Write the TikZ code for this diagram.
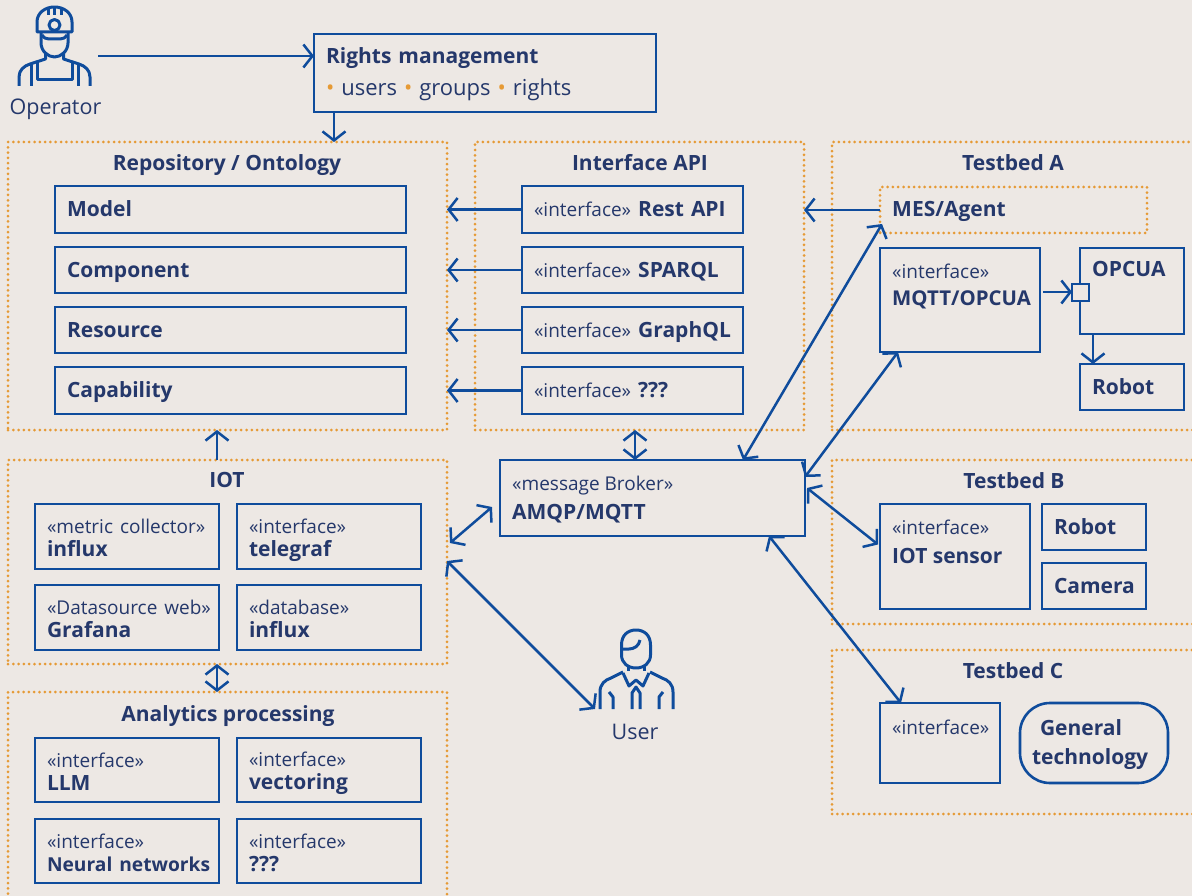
\documentclass[tikz,border=0pt]{standalone}
\usepackage{fontspec}
\setmainfont{Open Sans}
\usepackage{tikz}
\usetikzlibrary{positioning, arrows.meta}
\definecolor{pagebg}{HTML}{EDE8E4}
\definecolor{linkblue}{HTML}{0F4C9C}
\definecolor{inkblue}{HTML}{25386B}
\definecolor{dotorange}{HTML}{E69A35}
\newcommand{\stereo}[1]{{\fontsize{19}{23}\selectfont\mdseries #1}}
\newcommand{\twolines}[2]{\rule{0pt}{22pt}\mbox{\stereo{#1}}\\\mbox{#2}\rule[-5pt]{0pt}{5pt}}
\newcommand{\dotsep}{{\color{dotorange}\textbullet}}

\begin{document}
\begin{tikzpicture}[x=1pt,y=-1pt,
	box/.style={draw=linkblue, line width=2.6pt, outer sep=0pt, inner xsep=12pt, inner ysep=0pt, anchor=north west, align=left, text=inkblue, font=\fontsize{21}{23}\selectfont\bfseries},
	oneline/.style={text height=14pt, text depth=0pt},
	frame/.style={draw=dotorange, line width=3pt, line cap=round, dash pattern=on 0pt off 5.3pt, outer sep=0pt, inner sep=0pt, anchor=north west},
	title/.style={text=inkblue, inner sep=0pt, text height=14pt, text depth=0pt, font=\fontsize{21}{24}\selectfont\bfseries},
	iconlabel/.style={text=inkblue, inner sep=0pt, text height=14pt, text depth=0pt, font=\fontsize{21.5}{24}\selectfont},
	textlabel/.style={text=inkblue, inner sep=0pt, anchor=north west, align=left, font=\fontsize{21}{24}\selectfont\bfseries},
	link/.style={draw=linkblue, line width=2.5pt, -{Straight Barb[length=9pt,width=23pt]}},
	dlink/.style={draw=linkblue, line width=2.5pt, {Straight Barb[length=9pt,width=23pt]}-{Straight Barb[length=9pt,width=23pt]}},
	icon/.style={draw=linkblue, line width=3pt, line join=round}]
\useasboundingbox[fill=pagebg] (0,0) rectangle (1192,896);
% dotted frames, the open ones run off the page
\node[frame, minimum width=439pt, minimum height=288pt] (repo) at (8,142) {};
\node[frame, minimum width=329pt, minimum height=288pt] (api) at (475,142) {};
\node[frame, minimum width=400pt, minimum height=288pt] (bedA) at (832,142) {};
\node[frame, minimum width=400pt, minimum height=164pt] (bedB) at (832,460) {};
\node[frame, minimum width=400pt, minimum height=164pt] (bedC) at (832,650) {};
\node[frame, minimum width=439pt, minimum height=204pt] (iot) at (8,460) {};
\node[frame, minimum width=439pt, minimum height=240pt] (ana) at (8,692) {};
\node[title] (repotitle) at (227,164) {Repository / Ontology};
\node[title] (apititle) at (640,164) {Interface API};
\node[title] (bedAtitle) at (1013,164) {Testbed A};
\node[title] (bedBtitle) at (1014,481) {Testbed B};
\node[title] (bedCtitle) at (1013,671) {Testbed C};
\node[title] (iottitle) at (227,480) {IOT};
\node[title] (anatitle) at (228,714) {Analytics processing};
% rights
\node[box, minimum height=78pt, text width=318pt] (rights) at (314,34) {\rule{0pt}{18pt}Rights management\\[9pt]{\fontsize{22}{23}\selectfont\mdseries\dotsep\ users \dotsep\ groups \dotsep\ rights}\rule[-5pt]{0pt}{5pt}};
% repository and interface rows
\foreach \n/\y/\h/\a/\b in {0/186/47/Model/Rest API, 1/247/46/Component/SPARQL, 2/307/46/Resource/GraphQL, 3/367/47/Capability/???} {
	\node[box, oneline, minimum height=\h pt, text width=327pt] (m\n) at (55,\y) {\a};
	\node[box, oneline, minimum height=\h pt, text width=197pt] (i\n) at (522,\y) {\stereo{«interface»} \b};
	\draw[link] (i\n.west) -- (i\n.west -| repo.east);
}
% IOT and analytics boxes
\foreach \n/\x/\y/\a/\b in {a/35/504/«metric collector»/influx, b/237/504/«interface»/telegraf, c/35/585/«Datasource web»/Grafana, d/237/585/«database»/influx}
	\node[box, minimum height=65pt, text width=160pt] (iot\n) at (\x,\y) {\twolines{\a}{\b}};
\foreach \n/\x/\y/\b in {a/35/738/LLM, b/237/738/vectoring, c/35/819/{\fontsize{19.2}{23}\selectfont Neural networks}, d/237/819/???}
	\node[box, minimum height=64pt, text width=160pt] (ana\n) at (\x,\y) {\twolines{«interface»}{\b}};
% broker
\node[box, minimum width=305pt, minimum height=76pt] (broker) at (500,460) {};
\node[textlabel, below right=16pt and 12pt of broker.north west] (brokerlabel) {\stereo{«message Broker»}\\[5pt]AMQP/MQTT};
% testbed A
\node[frame, minimum width=267pt, minimum height=46pt] (mes) at (880,187) {};
\node[textlabel, anchor=west, oneline, right=12pt of mes.west] (meslabel) {MES/Agent};
\node[box, minimum width=160pt, minimum height=104pt] (mqtt) at (880,248) {};
\node[textlabel, below right=16pt and 12pt of mqtt.north west] (mqttlabel) {\stereo{«interface»}\\[3pt]{\fontsize{20.4}{24}\selectfont MQTT/OPCUA}};
\node[box, minimum width=104pt, minimum height=86pt] (opcua) at (1080,248) {};
\node[textlabel, below right=13pt and 12pt of opcua.north west] (opcualabel) {OPCUA};
\node[box, oneline, minimum width=104pt, minimum height=46pt, text width=80pt] (robotA) at (1080,364) {Robot};
\node[box, fill=pagebg, minimum width=17pt, minimum height=17pt, inner xsep=0pt] (port) at (1072,284) {};
% testbed B
\node[box, minimum width=150pt, minimum height=105pt] (sensor) at (880,504) {};
\node[textlabel, below right=16pt and 12pt of sensor.north west] (sensorlabel) {\stereo{«interface»}\\[5pt]IOT sensor};
\node[box, oneline, minimum height=46pt, text width=80pt] (robotB) at (1042,504) {Robot};
\node[box, oneline, minimum height=46pt, text width=80pt] (camera) at (1042,563) {Camera};
% testbed C
\node[box, minimum width=120pt, minimum height=80pt] (ifc) at (880,703) {};
\node[textlabel, below right=17pt and 12pt of ifc.north west] (ifclabel) {\stereo{«interface»}};
\node[box, rounded corners=30pt, minimum width=148pt, minimum height=80pt, text width=124pt] (general) at (1020,703) {\rule{0pt}{20pt}\hspace*{8pt}General\\[6pt]technology\rule[-5pt]{0pt}{5pt}};
% operator icon
\begin{scope}[icon]
\draw (37,32) -- (37,22) .. controls (37,13) and (45,7) .. (54.5,7) .. controls (64,7) and (72,13) .. (72,22) -- (72,32) -- cycle;
\draw (54.5,25) circle (5.5);
\draw (48,9) -- (48,15) (54.5,8) -- (54.5,15) (61,9) -- (61,15);
\draw (41,32) -- (41,43) .. controls (41,51) and (48,57) .. (54.5,57) .. controls (61,57) and (68,51) .. (68,43) -- (68,32);
\draw (42,35) .. controls (44,38) and (46,39) .. (49,39) -- (60,39) .. controls (63,39) and (65,38) .. (67,35);
\draw (19,86) -- (19,77) .. controls (19,70) and (24,66) .. (30,64) -- (45.5,59) -- (45.5,53);
\draw (90,86) -- (90,77) .. controls (90,70) and (85,66) .. (79,64) -- (63.5,59) -- (63.5,53);
\draw (31,64) -- (31,86) (78,64) -- (78,86);
\draw (37,61) -- (37,80) -- (72,80) -- (72,61);
\end{scope}
\node[iconlabel] (operator) at (55.5,108) {Operator};
% user icon
\begin{scope}[icon]
\draw (621.5,645) .. controls (621.5,635) and (628,630) .. (636,630) .. controls (644,630) and (650.5,635) .. (650.5,645) -- (650.5,655) .. controls (650.5,663) and (644,668) .. (636,668) .. controls (628,668) and (621.5,663) .. (621.5,655) -- cycle;
\draw (621.5,649) -- (629,649) .. controls (634,649) and (639,646) .. (640,640);
\draw (628,666) -- (628,671) (644,666) -- (644,671);
\draw (600,709) -- (600,692) .. controls (600,684) and (605,680) .. (611,678) -- (623,672);
\draw (673,709) -- (673,692) .. controls (673,684) and (668,680) .. (662,678) -- (650,672);
\draw (623,673) -- (629,686) -- (636,680) -- (643,686) -- (649,673);
\draw (632,709) -- (632,693) -- (636,687) -- (640,693) -- (640,709);
\draw (609,692) -- (613,697) -- (613,709) (663,692) -- (659,697) -- (659,709);
\end{scope}
\node[iconlabel] (user) at (635,732) {User};
\coordinate (operatorout) at (98,56);
\coordinate (userin) at (595,709);
% connectors
\draw[link] (operatorout) -- (operatorout -| rights.west);
\draw[link] ([xshift=20pt]rights.south west) -- ([xshift=20pt]rights.south west |- repo.north);
\draw[link] (mes.west) -- (mes.west -| api.east);
\draw[link] (iot.north -| 217,0) -- (repo.south -| 217,0);
\draw[dlink] (iot.south -| 217,0) -- (ana.north -| 217,0);
\draw[dlink] (api.south -| 635,0) -- (broker.north -| 635,0);
\draw[link] ([xshift=3pt,yshift=8pt]mqtt.east) -- ([yshift=.5pt]port.west);
\draw[link] ([xshift=13pt]opcua.south west) -- ([xshift=13pt]robotA.north west);
\draw[dlink] (450,543) -- (492,507);
\draw[dlink] (iot.east |- 0,561) -- (userin);
\draw[dlink] (broker.north -| 743,0) -- ([xshift=2pt,yshift=9pt]mes.south west);
\draw[dlink] ([yshift=21pt]broker.east) -- ([xshift=18pt]mqtt.south west);
\draw[dlink] ([xshift=2pt,yshift=10pt]broker.east) -- ([xshift=-2pt,yshift=12pt]sensor.west);
\draw[dlink] (broker.south -| 769,0) -- ([xshift=21pt]ifc.north west);
\end{tikzpicture}
\end{document}
